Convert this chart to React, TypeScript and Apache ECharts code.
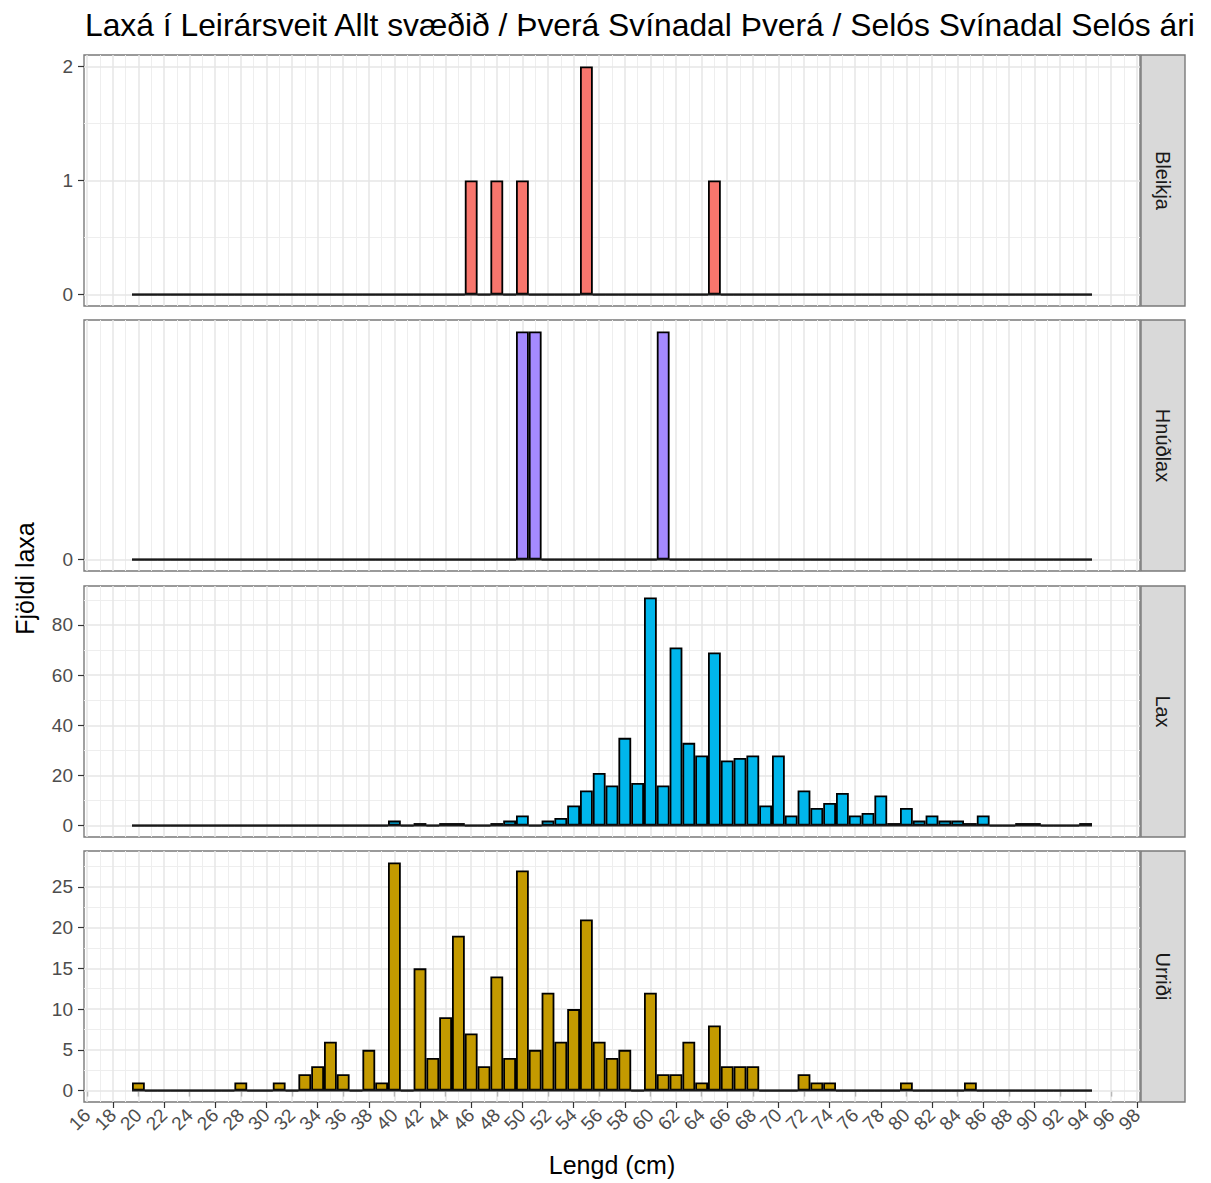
import React, { useEffect, useRef } from "react";
import * as echarts from "echarts";

const titleText =
  "Laxá í Leirársveit Allt svæðið / Þverá Svínadal Þverá / Selós Svínadal Selós ári";
const xTitle = "Lengd (cm)";
const yTitle = "Fjöldi laxa";

// Length bins in cm, one bar per bin
const lengths = [
  20, 21, 22, 23, 24, 25, 26, 27, 28, 29,
  30, 31, 32, 33, 34, 35, 36, 37, 38, 39,
  40, 41, 42, 43, 44, 45, 46, 47, 48, 49,
  50, 51, 52, 53, 54, 55, 56, 57, 58, 59,
  60, 61, 62, 63, 64, 65, 66, 67, 68, 69,
  70, 71, 72, 73, 74, 75, 76, 77, 78, 79,
  80, 81, 82, 83, 84, 85, 86, 87, 88, 89,
  90, 91, 92, 93, 94,
];

// Fish counts per length bin
const bleikja = [
  0, 0, 0, 0, 0, 0, 0, 0, 0, 0,
  0, 0, 0, 0, 0, 0, 0, 0, 0, 0,
  0, 0, 0, 0, 0, 0, 1, 0, 1, 0,
  1, 0, 0, 0, 0, 2, 0, 0, 0, 0,
  0, 0, 0, 0, 0, 1, 0, 0, 0, 0,
  0, 0, 0, 0, 0, 0, 0, 0, 0, 0,
  0, 0, 0, 0, 0, 0, 0, 0, 0, 0,
  0, 0, 0, 0, 0,
];

const hnudlax = [
  0, 0, 0, 0, 0, 0, 0, 0, 0, 0,
  0, 0, 0, 0, 0, 0, 0, 0, 0, 0,
  0, 0, 0, 0, 0, 0, 0, 0, 0, 0,
  1, 1, 0, 0, 0, 0, 0, 0, 0, 0,
  0, 1, 0, 0, 0, 0, 0, 0, 0, 0,
  0, 0, 0, 0, 0, 0, 0, 0, 0, 0,
  0, 0, 0, 0, 0, 0, 0, 0, 0, 0,
  0, 0, 0, 0, 0,
];

const lax = [
  0, 0, 0, 0, 0, 0, 0, 0, 0, 0,
  0, 0, 0, 0, 0, 0, 0, 0, 0, 0,
  2, 0, 1, 0, 1, 1, 0, 0, 1, 2,
  4, 0, 2, 3, 8, 14, 21, 16, 35, 17,
  91, 16, 71, 33, 28, 69, 26, 27, 28, 8,
  28, 4, 14, 7, 9, 13, 4, 5, 12, 1,
  7, 2, 4, 2, 2, 1, 4, 0, 0, 1,
  1, 0, 0, 0, 1,
];

const urridi = [
  1, 0, 0, 0, 0, 0, 0, 0, 1, 0,
  0, 1, 0, 2, 3, 6, 2, 0, 5, 1,
  28, 0, 15, 4, 9, 19, 7, 3, 14, 4,
  27, 5, 12, 6, 10, 21, 6, 4, 5, 0,
  12, 2, 2, 6, 1, 8, 3, 3, 3, 0,
  0, 0, 2, 1, 1, 0, 0, 0, 0, 0,
  1, 0, 0, 0, 0, 1, 0, 0, 0, 0,
  0, 0, 0, 0, 0,
];

const speciesNames = ["Bleikja", "Hnúðlax", "Lax", "Urriði"];
const speciesColors = ["#F8766D", "#A58AFF", "#00B6EB", "#C49A00"];

// Tick labels
const xTicks = [
  16, 18, 20, 22, 24, 26, 28, 30, 32, 34, 36, 38, 40, 42, 44, 46, 48, 50, 52, 54, 56,
  58, 60, 62, 64, 66, 68, 70, 72, 74, 76, 78, 80, 82, 84, 86, 88, 90, 92, 94, 96, 98,
];
const bleikjaTicks = [0, 1, 2];
const hnudlaxTicks = [0];
const laxTicks = [0, 20, 40, 60, 80];
const urridiTicks = [0, 5, 10, 15, 20, 25];

const FONT = '"Liberation Sans", Arial, Helvetica, sans-serif';

// Layout
const PANEL_LEFT = 84;
const PANEL_WIDTH = 1056;
const PANEL_HEIGHT = 251;
const PANEL_TOPS = [55, 320, 586, 851];
const STRIP_WIDTH = 44;

const GRID_MAJOR = { type: "solid", color: "#E6E6E6", width: 1.5 };
const GRID_MINOR = { type: "solid", color: "#EEEEEE", width: 1 };

function minorBreaks(majors: number[], lo: number, hi: number): number[] {
  if (majors.length < 2) return [];
  const step = majors[1] - majors[0];
  const cand = [majors[0] - step / 2, ...majors.map((m) => m + step / 2)];
  return cand.filter((v) => v > lo && v < hi);
}

function bottomAxis(gridIndex: number, min: number, max: number, values: number[], show: boolean) {
  return {
    type: "value",
    gridIndex,
    position: "bottom",
    min,
    max,
    axisLine: { show: false },
    splitLine: { show: false },
    axisTick: {
      show,
      customValues: values,
      length: 6,
      lineStyle: { color: "#333333", width: 1.2 },
    },
    axisLabel: {
      show,
      customValues: values,
      showMinLabel: true,
      showMaxLabel: true,
      hideOverlap: false,
      rotate: 45,
      margin: 10,
      fontSize: 19,
      color: "#4D4D4D",
      fontFamily: FONT,
    },
  };
}

function buildOption() {
  const panels = [
    { counts: bleikja, ticks: bleikjaTicks },
    { counts: hnudlax, ticks: hnudlaxTicks },
    { counts: lax, ticks: laxTicks },
    { counts: urridi, ticks: urridiTicks },
  ];

  // Histogram extent with 5% padding on each side
  const binLo = lengths[0] - 0.5;
  const binHi = lengths[lengths.length - 1] + 0.5;
  const xPad = (binHi - binLo) * 0.05;
  const xMin = binLo - xPad;
  const xMax = binHi + xPad;
  const xMinor = minorBreaks(xTicks, xMin, xMax);

  // The crowded bottom labels are split over two stacked axes so none get dropped
  const xTicksA = xTicks.filter((_, k) => k % 2 === 0);
  const xTicksB = xTicks.filter((_, k) => k % 2 === 1);

  const grids: any[] = [];
  const xAxes: any[] = [];
  const yAxes: any[] = [];
  const series: any[] = [];
  const graphics: any[] = [];

  panels.forEach((p, i) => {
    const top = PANEL_TOPS[i];
    const yMaxData = Math.max(...p.counts);
    const yMin = -0.05 * yMaxData;
    const yMax = 1.05 * yMaxData;
    const yMinor = minorBreaks(p.ticks, yMin, yMax);
    const last = i === panels.length - 1;

    grids.push({
      left: PANEL_LEFT,
      top,
      width: PANEL_WIDTH,
      height: PANEL_HEIGHT,
      show: true,
      backgroundColor: "#FFFFFF",
      borderColor: "#7A7A7A",
      borderWidth: 1.4,
      containLabel: false,
      outerBoundsMode: "none",
    });

    xAxes.push(bottomAxis(i, xMin, xMax, xTicksA, last));

    yAxes.push({
      type: "value",
      gridIndex: i,
      min: yMin,
      max: yMax,
      axisLine: { show: false },
      splitLine: { show: false },
      axisTick: {
        show: true,
        customValues: p.ticks,
        length: 6,
        lineStyle: { color: "#333333", width: 1.2 },
      },
      axisLabel: {
        customValues: p.ticks,
        showMinLabel: true,
        showMaxLabel: true,
        margin: 11,
        fontSize: 19,
        color: "#4D4D4D",
        fontFamily: FONT,
      },
    });

    const gridLines = [
      ...xMinor.map((v) => ({ xAxis: v, lineStyle: GRID_MINOR })),
      ...yMinor.map((v) => ({ yAxis: v, lineStyle: GRID_MINOR })),
      ...xTicks.map((v) => ({ xAxis: v, lineStyle: GRID_MAJOR })),
      ...p.ticks.map((v) => ({ yAxis: v, lineStyle: GRID_MAJOR })),
    ];

    series.push({
      type: "bar",
      name: speciesNames[i],
      xAxisIndex: i,
      yAxisIndex: i,
      data: lengths.map((len, k) => [len, p.counts[k]]),
      barWidth: "100%",
      z: 2,
      silent: true,
      itemStyle: {
        color: speciesColors[i],
        borderColor: "#000000",
        borderWidth: 1.8,
      },
      emphasis: { disabled: true },
    });

    // Zero baseline of the histogram plus the panel's grid lines
    series.push({
      type: "line",
      xAxisIndex: i,
      yAxisIndex: i,
      data: [
        [binLo, 0],
        [binHi, 0],
      ],
      symbol: "none",
      z: 3,
      silent: true,
      lineStyle: { color: "#1A1A1A", width: 2 },
      emphasis: { disabled: true },
      markLine: {
        silent: true,
        z: 1,
        symbol: ["none", "none"],
        label: { show: false },
        emphasis: { disabled: true },
        animation: false,
        data: gridLines,
      },
    });

    // Facet strip on the right
    graphics.push({
      type: "rect",
      shape: {
        x: PANEL_LEFT + PANEL_WIDTH + 1,
        y: top,
        width: STRIP_WIDTH,
        height: PANEL_HEIGHT,
      },
      style: { fill: "#D9D9D9", stroke: "#7A7A7A", lineWidth: 1.4 },
      silent: true,
    });
    graphics.push({
      type: "text",
      x: PANEL_LEFT + PANEL_WIDTH + 1 + STRIP_WIDTH / 2,
      y: top + PANEL_HEIGHT / 2,
      rotation: -Math.PI / 2,
      silent: true,
      style: {
        text: speciesNames[i],
        fontSize: 20,
        fontFamily: FONT,
        fill: "#1A1A1A",
        align: "center",
        verticalAlign: "middle",
        textAlign: "center",
        textVerticalAlign: "middle",
      },
    });
  });

  // Second bottom axis carrying the other half of the length labels
  xAxes.push(bottomAxis(panels.length - 1, xMin, xMax, xTicksB, true));

  graphics.push({
    type: "text",
    x: 25,
    y: (PANEL_TOPS[0] + PANEL_TOPS[3] + PANEL_HEIGHT) / 2,
    rotation: Math.PI / 2,
    silent: true,
    style: {
      text: yTitle,
      fontSize: 25,
      fontFamily: FONT,
      fill: "#000000",
      align: "center",
      verticalAlign: "middle",
      textAlign: "center",
      textVerticalAlign: "middle",
    },
  });
  graphics.push({
    type: "text",
    x: PANEL_LEFT + PANEL_WIDTH / 2,
    y: 1165,
    silent: true,
    style: {
      text: xTitle,
      fontSize: 25,
      fontFamily: FONT,
      fill: "#000000",
      align: "center",
      verticalAlign: "middle",
      textAlign: "center",
      textVerticalAlign: "middle",
    },
  });

  return {
    animation: false,
    backgroundColor: "#FFFFFF",
    title: {
      text: titleText,
      left: PANEL_LEFT - 4,
      top: 4,
      textStyle: {
        fontSize: 31.8,
        fontWeight: "normal",
        color: "#000000",
        fontFamily: FONT,
      },
    },
    grid: grids,
    xAxis: xAxes,
    yAxis: yAxes,
    series,
    graphic: graphics,
  };
}

export default function App() {
  const ref = useRef<HTMLDivElement>(null);

  useEffect(() => {
    if (!ref.current) return;
    const chart = echarts.init(ref.current, undefined, { renderer: "svg" });
    chart.setOption(buildOption() as any);
    return () => {
      chart.dispose();
    };
  }, []);

  return (
    <div
      ref={ref}
      style={{
        position: "absolute",
        left: 0,
        top: 0,
        width: 1211,
        height: 1183,
        background: "#FFFFFF",
      }}
    />
  );
}
